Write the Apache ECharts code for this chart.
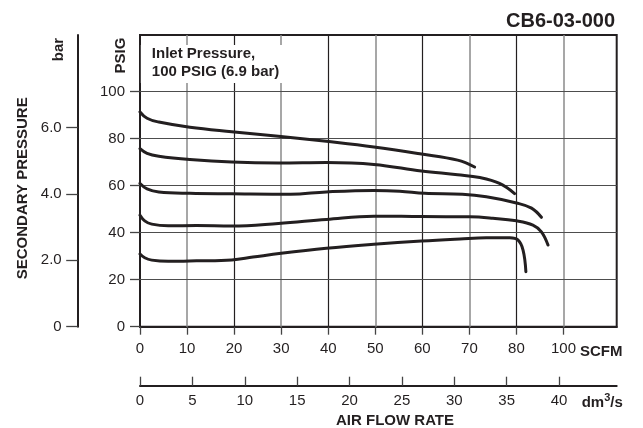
<!DOCTYPE html>
<html><head><meta charset="utf-8">
<script src="https://cdn.jsdelivr.net/npm/echarts@6/dist/echarts.min.js"></script>
<style>html,body{margin:0;padding:0;background:#fff}#c{width:643px;height:428px}</style>
</head><body><div id="c"></div>
<script>
// ---- data ----
const scfmTicks = [0, 10, 20, 30, 40, 50, 60, 70, 80, 90];
const scfmLabels = ['0', '10', '20', '30', '40', '50', '60', '70', '80', '100'];
const psigTicks = [0, 20, 40, 60, 80, 100];
const psigLabels = ['0', '20', '40', '60', '80', '100'];
const barTicks = [0, 2, 4, 6];
const barLabels = ['0', '2.0', '4.0', '6.0'];
const dmTicks = [0, 5, 10, 15, 20, 25, 30, 35, 40];
const dmLabels = ['0', '5', '10', '15', '20', '25', '30', '35', '40'];

const curve1 = [[0, 91.3], [1.5, 88.6], [4.0, 87.0], [10.6, 84.8], [19.5, 82.9], [29.4, 81.0], [39.6, 78.8], [49.7, 76.4], [59.8, 73.4], [67.5, 70.8], [71.1, 67.9]];
const curve2 = [[0, 75.7], [1.5, 73.7], [4.0, 72.5], [10.6, 71.1], [19.5, 70.0], [29.4, 69.6], [39.6, 69.8], [49.7, 69.0], [59.8, 66.2], [67.5, 64.6], [72.2, 63.4], [76.4, 60.9], [79.6, 56.6]];
const curve3 = [[0, 60.9], [1.5, 58.6], [4.0, 57.3], [10.6, 56.7], [19.5, 56.5], [32.0, 56.3], [39.6, 57.3], [49.7, 57.9], [55.2, 57.6], [60.5, 56.7], [68.5, 56.3], [73.6, 55.2], [80.0, 52.6], [83.2, 50.4], [85.3, 46.5]];
const curve4 = [[0, 47.4], [1.0, 45.0], [2.5, 43.6], [6.0, 42.9], [12.0, 43.0], [19.5, 42.8], [29.4, 43.9], [39.6, 45.6], [49.7, 47.0], [59.8, 46.8], [70.1, 46.7], [75.0, 46.1], [80.0, 45.0], [83.5, 43.2], [85.3, 40.3], [86.7, 34.7]];
const curve5 = [[0, 30.9], [1.0, 29.3], [2.5, 28.3], [6.0, 27.8], [12.0, 28.0], [19.5, 28.4], [24.0, 29.6], [30.0, 31.2], [39.6, 33.3], [49.7, 35.0], [59.8, 36.4], [68.0, 37.3], [73.6, 37.8], [78.6, 37.8], [80.3, 36.9], [81.4, 32.6], [82.0, 23.4]];
const curves = [curve1, curve2, curve3, curve4, curve5];

// ---- styling ----
const INK = '#231f20';
const FONT = '"Liberation Sans", Arial, sans-serif';
const DARK_GRID = '#231f20';
const GRAY_GRID = '#8a8a8a';

const chart = echarts.init(document.getElementById('c'), null, { renderer: 'canvas' });

const gridMarks = scfmTicks.slice(1).map((v, i) => ({
  xAxis: v,
  lineStyle: { color: i % 2 === 0 ? GRAY_GRID : DARK_GRID, width: i % 2 === 0 ? 1.5 : 1.2, type: 'solid' }
})).concat(psigTicks.slice(1).map(v => ({
  yAxis: v,
  lineStyle: { color: '#4d4d4d', width: 1.2, type: 'solid' }
})));

const series = curves.map((c, idx) => ({
  type: 'line',
  xAxisIndex: 0,
  yAxisIndex: 0,
  data: c,
  smooth: 0.4,
  symbol: 'none',
  showSymbol: false,
  z: 5,
  lineStyle: { color: INK, width: 3, cap: 'round', join: 'round' },
  emphasis: { disabled: true },
  silent: true,
  animation: false,
  markLine: idx === 0 ? {
    silent: true,
    symbol: ['none', 'none'],
    label: { show: false },
    animation: false,
    z: 1,
    emphasis: { disabled: true },
    data: gridMarks
  } : undefined
}));

const axisText = { fontSize: 15, color: INK, fontFamily: FONT };

chart.setOption({
  animation: false,
  backgroundColor: '#fff',
  textStyle: { fontFamily: FONT },
  grid: {
    left: 140, right: 26.3, top: 35, bottom: 101.3,
    show: true, borderColor: INK, borderWidth: 2,
    containLabel: false, outerBoundsMode: 'none'
  },
  xAxis: [
    {
      type: 'value', min: 0, max: 101.3, position: 'bottom', gridIndex: 0,
      axisLine: { show: true, onZero: false, lineStyle: { color: INK, width: 2 } },
      axisTick: { show: true, customValues: scfmTicks, length: 8, lineStyle: { color: '#444', width: 1.3 } },
      axisLabel: Object.assign({ customValues: scfmTicks, margin: 15,
        formatter: v => scfmLabels[scfmTicks.indexOf(v)] }, axisText),
      splitLine: { show: false }
    },
    {
      type: 'value', min: 0, max: 45.5, position: 'bottom', offset: 59, gridIndex: 0,
      axisLine: { show: true, onZero: false, lineStyle: { color: INK, width: 2 } },
      axisTick: { show: true, inside: true, customValues: dmTicks, length: 9, lineStyle: { color: '#444', width: 1.3 } },
      axisLabel: Object.assign({ customValues: dmTicks, margin: 8,
        formatter: v => dmLabels[dmTicks.indexOf(v)] }, axisText),
      splitLine: { show: false }
    }
  ],
  yAxis: [
    {
      type: 'value', min: 0, max: 124, position: 'left', gridIndex: 0,
      axisLine: { show: true, onZero: false, lineStyle: { color: INK, width: 2 } },
      axisTick: { show: true, customValues: psigTicks, length: 10, lineStyle: { color: '#444', width: 1.3 } },
      axisLabel: Object.assign({ customValues: psigTicks, margin: 15,
        formatter: v => psigLabels[psigTicks.indexOf(v)] }, axisText),
      splitLine: { show: false }
    },
    {
      type: 'value', min: 0, max: 8.78, position: 'left', offset: 62.3, gridIndex: 0,
      axisLine: { show: true, onZero: false, lineStyle: { color: INK, width: 2 } },
      axisTick: { show: true, customValues: barTicks, length: 11.5, lineStyle: { color: '#444', width: 1.3 } },
      axisLabel: Object.assign({ customValues: barTicks, margin: 16,
        formatter: v => barLabels[barTicks.indexOf(v)] }, axisText),
      splitLine: { show: false }
    }
  ],
  series: series,
  graphic: [
    { type: 'text', x: 615, y: 21.7, z: 100,
      style: { text: 'CB6-03-000', align: 'right', verticalAlign: 'middle', fill: INK,
        font: 'bold 20px ' + FONT } },
    { type: 'text', x: 140.8, y: 45, z: 100,
      style: { text: 'Inlet Pressure,\n100 PSIG (6.9 bar)', align: 'left', verticalAlign: 'top', fill: INK,
        font: 'bold 15px ' + FONT, lineHeight: 18, backgroundColor: '#fff', padding: [0, 4, 2, 11] } },
    { type: 'text', x: 120.5, y: 55.5, rotation: Math.PI / 2, z: 100,
      style: { text: 'PSIG', align: 'center', verticalAlign: 'middle', fill: INK, font: 'bold 15px ' + FONT } },
    { type: 'text', x: 59, y: 49.5, rotation: Math.PI / 2, z: 100,
      style: { text: 'bar', align: 'center', verticalAlign: 'middle', fill: INK, font: 'bold 15px ' + FONT } },
    { type: 'text', x: 23.3, y: 188.3, rotation: Math.PI / 2, z: 100,
      style: { text: 'SECONDARY PRESSURE', align: 'center', verticalAlign: 'middle', fill: INK, font: 'bold 15px ' + FONT } },
    { type: 'text', x: 580, y: 351.7, z: 100,
      style: { text: 'SCFM', align: 'left', verticalAlign: 'middle', fill: INK, font: 'bold 15px ' + FONT } },
    { type: 'text', x: 581.7, y: 401.5, z: 100,
      style: { text: '{a|dm}{b|3}{a|/s}', align: 'left', verticalAlign: 'middle', fill: INK,
        rich: {
          a: { fontSize: 15, fontWeight: 'bold', fontFamily: FONT, fill: INK, lineHeight: 18, verticalAlign: 'bottom' },
          b: { fontSize: 11, fontWeight: 'bold', fontFamily: FONT, fill: INK, lineHeight: 18, verticalAlign: 'bottom', padding: [0, 0, 7, 0] }
        } } },
    { type: 'text', x: 395, y: 421, z: 100,
      style: { text: 'AIR FLOW RATE', align: 'center', verticalAlign: 'middle', fill: INK, font: 'bold 15px ' + FONT } }
  ]
});
</script>
</body></html>
